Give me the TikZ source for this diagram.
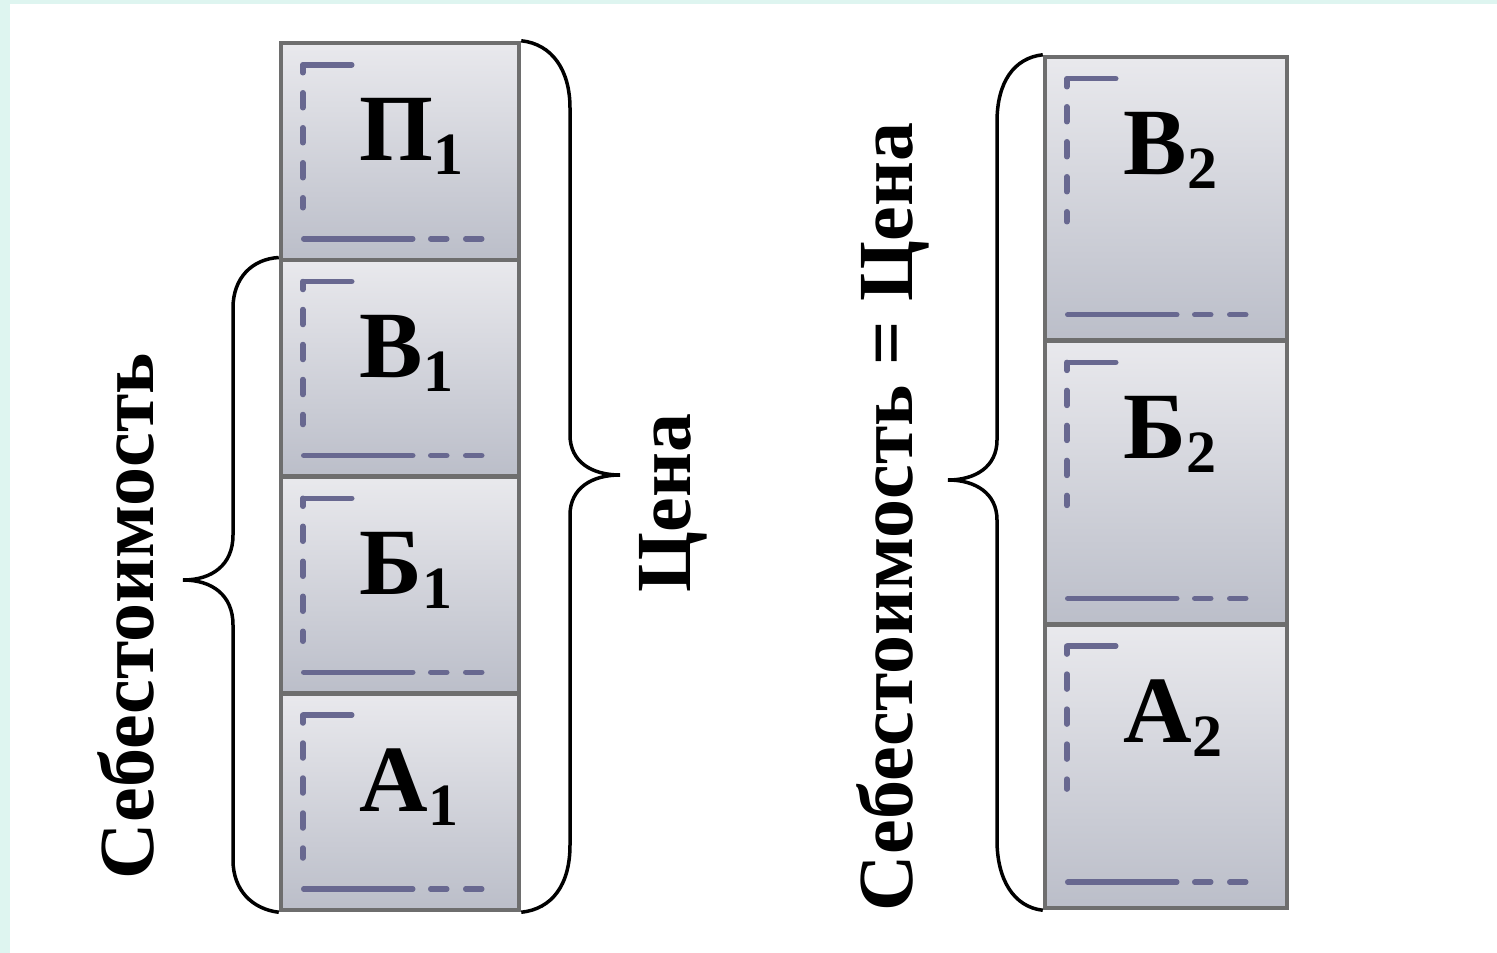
\documentclass[tikz,border=0pt]{standalone}
\usepackage{fontspec}
\setmainfont{Liberation Serif}

\definecolor{rim}{RGB}{110,110,110}
\definecolor{boxtop}{RGB}{233,233,237}
\definecolor{boxbot}{RGB}{187,190,201}
\definecolor{trimcol}{RGB}{104,104,144}
\definecolor{mint}{RGB}{222,245,240}

\tikzset{
  trimline/.style={draw=trimcol, line width=5.5pt, line cap=round},
  letter/.style={font=\fontsize{95}{95}\selectfont\bfseries, inner sep=0pt, anchor=base west},
  caption/.style={font=\fontsize{78}{78}\selectfont\bfseries, inner sep=0pt, anchor=base west, rotate=90},
  bracket/.style={draw=black, line width=3.5pt}
}

% marks and letter inside one box: #1 box, #2 bottom line, #3 letter, #4 index
\newcommand{\panel}[4]{%
  \begin{scope}[shift={(#1.north west)}]
    \draw[trimline] (25,24) -- (73,24);
    \draw[trimline, dash pattern=on 15pt off 20pt, dash phase=7pt] (24,24) -- (24,167);
    \draw[trimline] (25,#2) -- (134,#2);
    \draw[trimline] (152,#2) -- (168,#2);
    \draw[trimline] (187,#2) -- (203,#2);
    \node[letter] (#1-txt) at (81,120) {#3\raisebox{-14pt}{\fontsize{60}{60}\selectfont #4}};
  \end{scope}}

\begin{document}
\begin{tikzpicture}[x=1pt, y=-1pt]
  \useasboundingbox (0,0) rectangle (1497,953);
  \fill[white] (0,0) rectangle (1497,953);
  \fill[mint] (0,0) rectangle (10,953);
  \fill[mint] (0,0) rectangle (1497,4);

  \begin{scope}[every node/.style={draw=rim, line width=4.5pt, top color=boxtop, bottom color=boxbot, inner sep=0pt}]
    \node[minimum width=238pt, minimum height=216.75pt] (p1) at (400,151.375) {};
    \node[minimum width=238pt, minimum height=216.75pt] (v1) at (400,368.125) {};
    \node[minimum width=238pt, minimum height=216.75pt] (b1) at (400,584.875) {};
    \node[minimum width=238pt, minimum height=216.75pt] (a1) at (400,801.625) {};
    \node[minimum width=242pt, minimum height=283.67pt] (v2) at (1166,198.83) {};
    \node[minimum width=242pt, minimum height=283.67pt] (b2) at (1166,482.5) {};
    \node[minimum width=242pt, minimum height=283.67pt] (a2) at (1166,766.17) {};
  \end{scope}

  \panel{p1}{198}{П}{1}
  \panel{v1}{198}{В}{1}
  \panel{b1}{198}{Б}{1}
  \panel{a1}{198}{А}{1}
  \panel{v2}{260}{В}{2}
  \panel{b2}{260}{Б}{2}
  \panel{a2}{260}{А}{2}

  % braces
  \draw[bracket] (v1.north west) .. controls (252,259) and (233,278) .. (233,308) -- (233,535)
    .. controls (233,565) and (212,580) .. (183,580)
    .. controls (212,580) and (233,595) .. (233,625) -- (233,860)
    .. controls (233,890) and (252,909) .. (a1.south west);
  \draw[bracket] (p1.north east) .. controls (552,44) and (570,70) .. (570,108) -- (570,435)
    .. controls (570,462) and (592,475) .. (620,475)
    .. controls (592,475) and (570,488) .. (570,515) -- (570,845)
    .. controls (570,885) and (552,909) .. (a1.south east);
  \draw[bracket] (v2.north west) .. controls (1014,58) and (997,82) .. (997,122) -- (997,440)
    .. controls (997,467) and (975,480) .. (948,480)
    .. controls (975,480) and (997,493) .. (997,520) -- (997,840)
    .. controls (997,880) and (1014,907) .. (a2.south west);

  \node[caption] (cost) at (153,880) {Себестоимость};
  \node[caption] (price) at (690,593) {Цена};
  \node[caption] (costprice) at (912,912) {Себестоимость = Цена};
\end{tikzpicture}
\end{document}
